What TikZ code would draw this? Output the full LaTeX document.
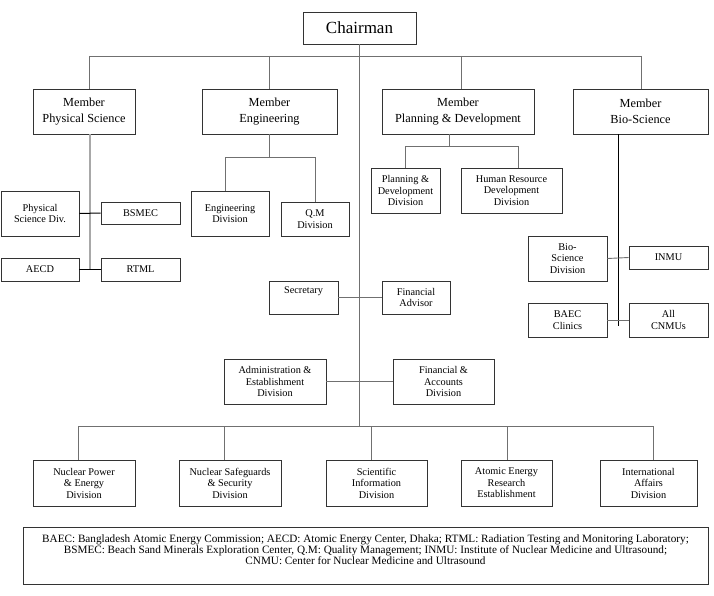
\documentclass[tikz,border=0pt]{standalone}
\usepackage{fontspec}
\setmainfont{Liberation Serif}
\definecolor{boxline}{HTML}{333333}
\definecolor{busline}{HTML}{707070}
\definecolor{lightbus}{HTML}{A8A8A8}
\tikzset{
  box/.style={draw=boxline, line width=0.9pt, inner sep=0pt, align=center,
    font=\fontsize{10.3}{11.5}\selectfont},
  bigbox/.style={box, font=\fontsize{12.3}{15.5}\selectfont},
  bus/.style={draw=busline, line width=0.9pt},
  lbus/.style={draw=lightbus, line width=1.6pt},
  blk/.style={draw=black, line width=1pt},
}
\begin{document}
\begin{tikzpicture}[x=1pt,y=-1pt]
\useasboundingbox[fill=white] (0,0) rectangle (714,596);
% top
\node[box, font=\fontsize{17}{18}\selectfont, minimum width=113, minimum height=32] (chair) at (359.5,28) {Chairman};
\node[bigbox, minimum width=102, minimum height=45] (mps) at (84,111.5) {Member\\Physical Science};
\node[bigbox, minimum width=135, minimum height=45] (meng) at (269.5,111.5) {Member\\Engineering};
\node[bigbox, minimum width=152, minimum height=45] (mpd) at (458,111.5) {Member\\Planning \& Development};
\node[bigbox, minimum width=135, minimum height=45] (mbio) at (640.5,111.5) {Member\\Bio-Science};
% physical science
\node[box, minimum width=78, minimum height=45] (psd) at (40,213.5) {Physical\\Science Div.};
\node[box, minimum width=79, minimum height=22] (bsmec) at (140.5,213) {BSMEC};
\node[box, minimum width=78, minimum height=23] (aecd) at (40,269.5) {AECD};
\node[box, minimum width=79, minimum height=23] (rtml) at (140.5,269.5) {RTML};
% engineering
\node[box, minimum width=78, minimum height=45] (engdiv) at (230,213.5) {Engineering\\Division};
\node[box, minimum width=68, minimum height=34] (qmdiv) at (315,219) {Q.M\\Division};
% planning
\node[box, minimum width=69, minimum height=45] (pddiv) at (405.5,190.5) {Planning \&\\Development\\Division};
\node[box, minimum width=101, minimum height=45] (hrd) at (511.5,190.5) {Human Resource\\Development\\Division};
% bio
\node[box, minimum width=79, minimum height=45] (biodiv) at (567.5,258.5) {Bio-\\Science\\Division};
\node[box, minimum width=79, minimum height=23] (inmu) at (668.5,257.5) {INMU};
\node[box, minimum width=79, minimum height=34] (clinics) at (567.5,320) {BAEC\\Clinics};
\node[box, minimum width=79, minimum height=34] (cnmu) at (668.5,320) {All\\CNMUs};
% center
\node[box, minimum width=69, minimum height=33] (sec) at (303.5,297.5) {Secretary\\\strut};
\node[box, minimum width=68, minimum height=33] (fa) at (416,297.5) {Financial\\Advisor};
\node[box, minimum width=102, minimum height=45] (admin) at (275,381.5) {Administration \&\\Establishment\\Division};
\node[box, minimum width=101, minimum height=45] (faccts) at (443.5,381.5) {Financial \&\\Accounts\\Division};
% bottom
\node[box, minimum width=102, minimum height=46] (npe) at (84,483) {Nuclear Power\\\& Energy\\Division};
\node[box, minimum width=102, minimum height=46] (nss) at (230,483) {Nuclear Safeguards\\\& Security\\Division};
\node[box, minimum width=101, minimum height=46] (sid) at (376.5,483) {Scientific\\Information\\Division};
\node[box, minimum width=91, minimum height=46] (aere) at (506.5,483) {Atomic Energy\\Research\\Establishment};
\node[box, minimum width=97, minimum height=46] (iad) at (648.5,483) {International\\Affairs\\Division};
% legend
\node[box, font=\fontsize{11.2}{11}\selectfont, minimum width=685, minimum height=57] (legend) at (365.5,555.5)
  {BAEC: Bangladesh Atomic Energy Commission; AECD: Atomic Energy Center, Dhaka; RTML: Radiation Testing and Monitoring Laboratory;\\
   BSMEC: Beach Sand Minerals Exploration Center, Q.M: Quality Management; INMU: Institute of Nuclear Medicine and Ultrasound;\\
   CNMU: Center for Nuclear Medicine and Ultrasound\\\mbox{}};

% ---- connectors ----
\coordinate (topbus) at (359.5,56);
\coordinate (botbus) at (359.5,426);
\coordinate (tA) at (89,56);
\coordinate (tB) at (269,56);
\coordinate (tC) at (461,56);
\coordinate (tD) at (641,56);
\draw[bus] (tA) -- (tD);
\draw[bus] (tA) -- (tA |- mps.north);
\draw[bus] (tB) -- (tB |- meng.north);
\draw[bus] (tC) -- (tC |- mpd.north);
\draw[bus] (tD) -- (tD |- mbio.north);
\draw[bus] (chair.south) -- (botbus);

% physical science
\coordinate (psx) at (90,134);
\coordinate (psend) at (90,269.5);
\draw[lbus] (psx |- mps.south) -- (psend);
\draw[blk] (psd.east) -- (bsmec.west);
\draw[blk] (aecd.east) -- (rtml.west);

% engineering
\coordinate (eA) at (269,157);
\coordinate (eL) at (225,157);
\coordinate (eR) at (315,157);
\draw[bus] (eA |- meng.south) -- (eA);
\draw[bus] (eL |- engdiv.north) -- (eL) -- (eR) -- (eR |- qmdiv.north);

% planning
\coordinate (pA) at (449,146);
\coordinate (pL) at (405.5,146);
\coordinate (pR) at (518,146);
\draw[bus] (pA |- mpd.south) -- (pA);
\draw[bus] (pL |- pddiv.north) -- (pL) -- (pR) -- (pR |- hrd.north);

% bio
\coordinate (bA) at (618,326);
\draw[blk] (bA |- mbio.south) -- (bA);
\draw[bus] (biodiv.east) -- (inmu.west);
\draw[bus] (clinics.east) -- (cnmu.west);

% center
\draw[bus] (sec.east) -- (fa.west);
\draw[bus] (admin.east) -- (faccts.west);

% bottom
\coordinate (b1) at (78,426);
\coordinate (b2) at (224,426);
\coordinate (b3) at (371,426);
\coordinate (b4) at (507,426);
\coordinate (b5) at (653,426);
\draw[bus] (b1) -- (b5);
\draw[bus] (b1) -- (b1 |- npe.north);
\draw[bus] (b2) -- (b2 |- nss.north);
\draw[bus] (b3) -- (b3 |- sid.north);
\draw[bus] (b4) -- (b4 |- aere.north);
\draw[bus] (b5) -- (b5 |- iad.north);
\end{tikzpicture}
\end{document}
